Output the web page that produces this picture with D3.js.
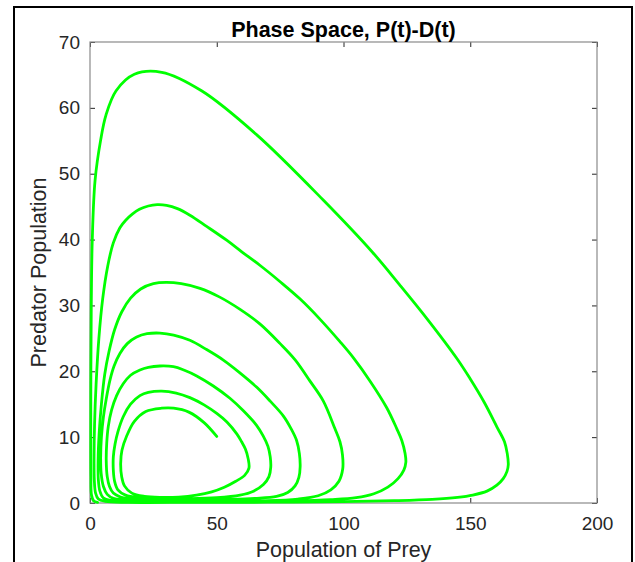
<!DOCTYPE html>
<html>
<head>
<meta charset="utf-8">
<script src="https://cdnjs.cloudflare.com/ajax/libs/d3/7.8.5/d3.min.js"></script>
<style>
  body { margin: 0; background: #fff; }
  svg { display: block; }
  .tick text { font-family: "Liberation Sans", Arial, sans-serif; font-size: 19px; fill: #262626; }
  .tick line { stroke: #262626; }
  .labels { font-family: "Liberation Sans", Arial, sans-serif; font-size: 21.5px; fill: #262626; }
  .charttitle { font-family: "Liberation Sans", Arial, sans-serif; font-size: 21.5px; font-weight: bold; fill: #000; }
</style>
</head>
<body>
<script>
// *** axis ticks
var xTicks = [0, 50, 100, 150, 200];
var yTicks = [0, 10, 20, 30, 40, 50, 60, 70];

// *** trajectory: [prey, predator], one array per turn of the spiral
var loop1 = [[50, 10.1], [45, 12.2], [39, 13.8], [33, 14.4], [28.3, 14.4], [22, 13.9], [17.5, 12.4], [14.5, 10.2], [12.6, 8], [12.1, 6], [12.5, 4], [13.6, 2.6], [16.5, 1.5], [21.5, 1.0], [28, 0.85], [35, 0.9], [42, 1.2], [48, 1.7], [53, 2.4], [57.5, 3.3], [61, 4.2], [62.7, 5.3]];
var loop2 = [[62.4, 6.7], [61.3, 8.2], [59.8, 9.3], [57.9, 10.5], [54, 12.3], [50, 13.6], [45, 14.9], [39.4, 16.0], [34, 16.7], [28.3, 17.0], [23, 16.8], [19.7, 16.3], [16, 15], [13.1, 13.1], [11, 10.8], [9.9, 9], [9.2, 7], [9.2, 5], [9.7, 3.3], [11, 2], [14, 1.2], [19.7, 0.8], [28, 0.65], [39.4, 0.65], [50, 0.8], [59.2, 1.2], [64.5, 1.8], [68.4, 2.8], [70.6, 4], [71.3, 5.4]];
var loop3 = [[71.1, 7], [70.2, 8.6], [68.3, 10.2], [65.7, 11.8], [60.5, 14], [55.2, 15.9], [48.5, 17.8], [42.1, 19.3], [37, 20.2], [32.9, 20.7], [27.6, 20.8], [23, 20.6], [19.7, 20.2], [16, 19.4], [13.1, 18.1], [10.5, 16.3], [8.5, 14.1], [7.2, 11.6], [6.6, 9.1], [6.4, 6.5], [6.8, 4.0], [7.7, 2.5], [9.2, 1.5], [12, 0.9], [15.8, 0.6], [25, 0.45], [40, 0.45], [55, 0.55], [65, 0.7], [73.6, 1.0], [78, 1.6], [80.9, 2.6], [82.4, 3.9], [82.9, 5.5]];
var loop4 = [[82.6, 7.5], [81.5, 9.5], [79.3, 11.3], [76.3, 13.2], [71, 15.5], [65.7, 17.6], [59, 19.8], [52.6, 21.7], [46, 23.3], [39.4, 24.7], [33, 25.5], [27.6, 25.8], [22.5, 25.7], [18.4, 25.2], [14.7, 24.2], [11.8, 22.7], [9.5, 20.8], [7.9, 18.7], [6.4, 15.8], [5.3, 13.1], [4.5, 10], [4.2, 7], [4.4, 4.5], [5.3, 2.5], [6.8, 1.3], [9.2, 0.7], [15, 0.4], [30, 0.3], [50, 0.3], [70, 0.35], [82, 0.6], [90, 1.1], [95, 2], [98.2, 3.3], [99.7, 5.2]];
var loop5 = [[99.6, 7.3], [98.6, 9.3], [96.6, 11.3], [92, 15.5], [86.8, 18.5], [81, 21.7], [75, 24.2], [67, 27.2], [59.2, 29.4], [51, 31.3], [43.4, 32.6], [36, 33.3], [30, 33.5], [25, 33.3], [20, 32.5], [16, 31.1], [12.5, 29], [9.7, 26.3], [7.5, 23], [5.8, 19.5], [4.5, 15], [3.6, 10.5], [3.2, 6.5], [3.3, 3.5], [3.9, 1.8], [5.2, 0.8], [8, 0.4], [20, 0.2], [40, 0.15], [60, 0.2], [80, 0.3], [95, 0.5], [105, 0.8], [112, 1.4], [117.5, 2.4], [121.5, 3.7], [123.8, 5], [124.6, 6.2]];
var loop6 = [[124.3, 7.5], [123, 9.5], [121, 11.3], [117, 14.5], [110.5, 18.5], [104, 22], [98.6, 24.5], [90.5, 28], [82.8, 31], [75, 33.6], [67, 36.1], [60, 38.1], [53.9, 39.9], [46, 42], [39.4, 43.7], [34.5, 44.7], [30.2, 45.2], [26.5, 45.3], [23, 45.1], [19.5, 44.6], [16.8, 43.9], [14, 42.9], [11.8, 41.8], [9.2, 39.5], [7, 36], [5, 31], [3.5, 25], [2.4, 18], [1.8, 12], [1.6, 7], [1.7, 3.5], [2.2, 1.5], [3.3, 0.6], [6, 0.25], [15, 0.1], [40, 0.1], [70, 0.12], [100, 0.2], [120, 0.35], [135, 0.55], [145, 0.85], [151, 1.2], [156.6, 1.8], [160.5, 2.7], [163, 3.7], [164.5, 4.8], [165, 5.8]];
var loop7 = [[164.6, 7.5], [163.5, 9.3], [160.6, 11.5], [155.5, 15.3], [149.9, 18.9], [144.8, 21.9], [132.9, 28], [122, 33.2], [111.6, 38], [92, 46], [65.8, 55.9], [44, 62.6], [28.3, 65.4], [17.5, 65.1], [10.3, 62.6], [6.3, 58.9], [4.2, 55.1], [2, 49], [0.9, 40], [0.5, 30], [0.35, 20], [0.3, 10], [0.35, 4], [0.6, 1.2], [1.5, 0.3], [3, 0.1]];

var trajectory = [].concat(loop1, loop2, loop3, loop4, loop5, loop6, loop7);

// *** begin drawing:
var width = 635
var height = 562
var plotLeft = 90
var plotRight = 597
var plotTop = 42
var plotBottom = 503

var svg = d3.select('body')
  .append('svg')
  .attr('width', width)
  .attr('height', height);

// outer figure frame
svg.append('rect')
  .attr('x', 14)
  .attr('y', 7)
  .attr('width', 618)
  .attr('height', 570)
  .attr('fill', 'none')
  .attr('stroke', '#000')
  .attr('stroke-width', 2);

var xScale = d3.scaleLinear().domain([0, 200]).range([plotLeft, plotRight]);
var yScale = d3.scaleLinear().domain([0, 70]).range([plotBottom, plotTop]);

// x axis
svg.append('g')
  .attr('class', 'axis')
  .attr('transform', 'translate(0,' + plotBottom + ')')
  .call(d3.axisBottom(xScale).tickValues(xTicks).tickSize(-5).tickPadding(14).tickFormat(d3.format('d')))
  .call(g => g.select('.domain').remove());

// y axis
svg.append('g')
  .attr('class', 'axis')
  .attr('transform', 'translate(' + plotLeft + ',0)')
  .call(d3.axisLeft(yScale).tickValues(yTicks).tickSize(-5).tickPadding(10).tickFormat(d3.format('d')))
  .call(g => g.select('.domain').remove());

// top + right ticks (box)
svg.append('g')
  .attr('transform', 'translate(0,' + plotTop + ')')
  .call(d3.axisTop(xScale).tickValues(xTicks).tickSize(-5).tickFormat(''))
  .call(g => g.select('.domain').remove());
svg.append('g')
  .attr('transform', 'translate(' + plotRight + ',0)')
  .call(d3.axisRight(yScale).tickValues(yTicks).tickSize(-5).tickFormat(''))
  .call(g => g.select('.domain').remove());

// axes box
svg.append('rect')
  .attr('x', plotLeft)
  .attr('y', plotTop)
  .attr('width', plotRight - plotLeft)
  .attr('height', plotBottom - plotTop)
  .attr('fill', 'none')
  .attr('stroke', '#8a8a8a')
  .attr('stroke-width', 1.2);

// the spiral
var line = d3.line()
  .x(d => xScale(d[0]))
  .y(d => yScale(d[1]))
  .curve(d3.curveCatmullRom.alpha(0.5));

svg.append('path')
  .datum(trajectory)
  .attr('d', line)
  .attr('fill', 'none')
  .attr('stroke', '#00ff00')
  .attr('stroke-width', 2.8)
  .attr('stroke-linejoin', 'round')
  .attr('stroke-linecap', 'round');

// x axis label
svg.append('text')
  .attr('class', 'labels')
  .attr('x', (plotLeft + plotRight) / 2)
  .attr('y', 557)
  .style('text-anchor', 'middle')
  .text('Population of Prey');

// y axis label
svg.append('text')
  .attr('class', 'labels')
  .style('text-anchor', 'middle')
  .attr('transform', 'translate(46,' + (plotTop + plotBottom) / 2 + ') rotate(-90)')
  .text('Predator Population');

// chart title
svg.append('text')
  .attr('class', 'charttitle')
  .attr('x', (plotLeft + plotRight) / 2)
  .attr('y', 37)
  .style('text-anchor', 'middle')
  .text('Phase Space, P(t)-D(t)');
</script>
</body>
</html>
